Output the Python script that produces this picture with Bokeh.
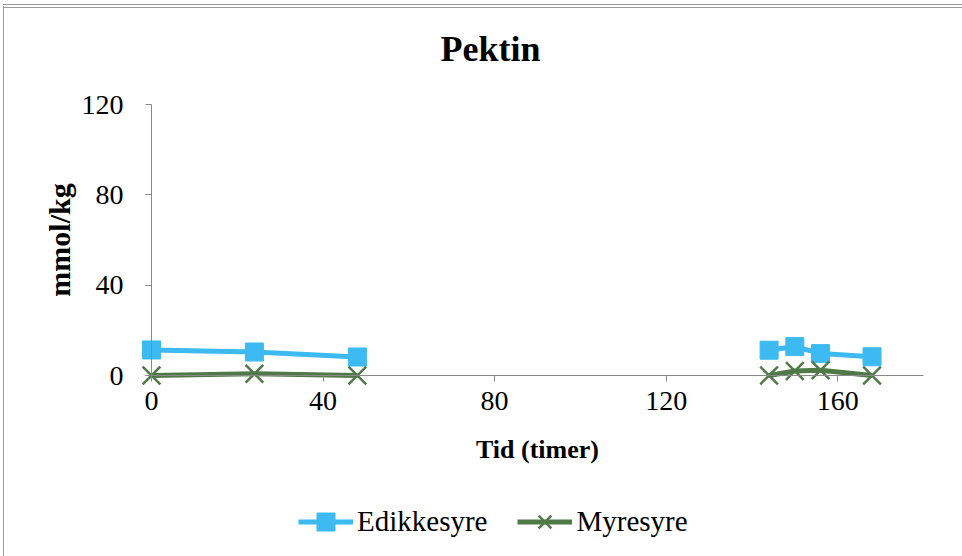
import numpy as np
from bokeh.plotting import figure
from bokeh.models import Range1d, FixedTicker, Legend, LegendItem, Label
from bokeh.embed import file_html
from bokeh.resources import INLINE

# ---- data ----
time_h = [0, 24, 48, 144, 150, 156, 168]
edikkesyre = [11.3, 10.4, 8.2, 11.2, 12.8, 9.7, 8.3]
myresyre = [0.0, 0.8, 0.0, 0.0, 2.0, 2.3, 0.0]
x_ticks = [0, 40, 80, 120, 160]
y_ticks = [0, 40, 80, 120]
x_max, y_max = 180, 120
series_names = ["Edikkesyre", "Myresyre"]
title_text = "Pektin"
x_title = "Tid (timer)"
y_title = "mmol/kg"
break_after = 2  # no samples between 48 h and 144 h -> line is broken


def broken(vals):
    v = list(vals)
    return v[:break_after + 1] + [np.nan] + v[break_after + 1:]


SERIF = "Liberation Serif"
AXIS_GREY = "#898989"
BLUE = "#3dbaf2"
GREEN = "#4f7a47"

# ---- layout (pixels inside the canvas) ----
CANVAS_W, CANVAS_H = 958, 548
AX_LEFT, AX_RIGHT = 147, 919      # x = 0 .. x_max
AX_TOP, AX_BOTTOM = 96, 367       # y = y_max .. 0
px_x = (AX_RIGHT - AX_LEFT) / x_max
px_y = (AX_BOTTOM - AX_TOP) / y_max

x_range = Range1d(-AX_LEFT / px_x, x_max + (CANVAS_W - AX_RIGHT) / px_x)
y_range = Range1d(-(CANVAS_H - AX_BOTTOM) / px_y, y_max + AX_TOP / px_y)

p = figure(
    output_backend="svg",
    toolbar_location=None,
    frame_width=CANVAS_W,
    frame_height=CANVAS_H,
    min_border=0,
    x_range=x_range,
    y_range=y_range,
    background_fill_color="white",
    border_fill_color="white",
)
p.styles = {
    "margin-left": "3px",
    "margin-top": "4px",
    "border-left": "1px solid #9a9a9a",
    "border-top": "4px double #9a9a9a",
}
p.outline_line_color = None
p.xgrid.visible = False
p.ygrid.visible = False
p.title.visible = False

for ax in (p.xaxis[0], p.yaxis[0]):
    ax.fixed_location = 0
    ax.axis_line_color = AXIS_GREY
    ax.axis_line_width = 1
    ax.major_tick_line_color = AXIS_GREY
    ax.major_tick_out = 6
    ax.major_tick_in = 0
    ax.minor_tick_line_color = None
    ax.major_label_text_font = SERIF
    ax.major_label_text_font_size = "28px"
    ax.major_label_text_color = "black"
    ax.axis_label_text_font = SERIF
    ax.axis_label_text_font_style = "bold"
    ax.axis_label_text_color = "black"

p.xaxis.bounds = (0, x_max)
p.yaxis.bounds = (0, y_max)
p.xaxis.ticker = FixedTicker(ticks=x_ticks, minor_ticks=[])
p.yaxis.ticker = FixedTicker(ticks=y_ticks, minor_ticks=[])
p.xaxis.major_label_standoff = 10
p.yaxis.major_label_standoff = 22
p.xaxis.axis_label = x_title
p.xaxis.axis_label_text_font_size = "26px"
p.xaxis.axis_label_standoff = 22
p.yaxis.axis_label = y_title
p.yaxis.axis_label_text_font_size = "30px"
p.yaxis.axis_label_standoff = 3

# title (centred on the whole chart)
p.add_layout(Label(
    x=(486 - AX_LEFT) / px_x,
    y=(AX_BOTTOM - 40) / px_y,
    text=title_text,
    text_align="center",
    text_baseline="alphabetic",
    text_font=SERIF,
    text_font_size="36px",
    text_font_style="bold",
    text_color="black",
))

xs = broken(time_h)
l1 = p.line(xs, broken(edikkesyre), line_color=BLUE, line_width=5)
s1 = p.scatter(time_h, edikkesyre, marker="square", size=18,
               fill_color=BLUE, line_color=BLUE)
l2 = p.line(xs, broken(myresyre), line_color=GREEN, line_width=5)
s2 = p.scatter(time_h, myresyre, marker="x", size=25,
               line_color=GREEN, line_width=2.5)

LEG_H = 45
legend = Legend(
    items=[LegendItem(label=series_names[0], renderers=[l1, s1]),
           LegendItem(label=series_names[1], renderers=[l2, s2])],
    orientation="horizontal",
    location=(294, CANVAS_H - 491 - LEG_H),
    glyph_width=55,
    glyph_height=LEG_H,
    label_standoff=4,
    spacing=30,
    padding=0,
    margin=0,
    border_line_color=None,
    background_fill_alpha=0,
    label_text_font=SERIF,
    label_text_font_size="29px",
    label_text_color="black",
)
p.add_layout(legend, "center")

open("out.html", "w").write(file_html(p, INLINE))
